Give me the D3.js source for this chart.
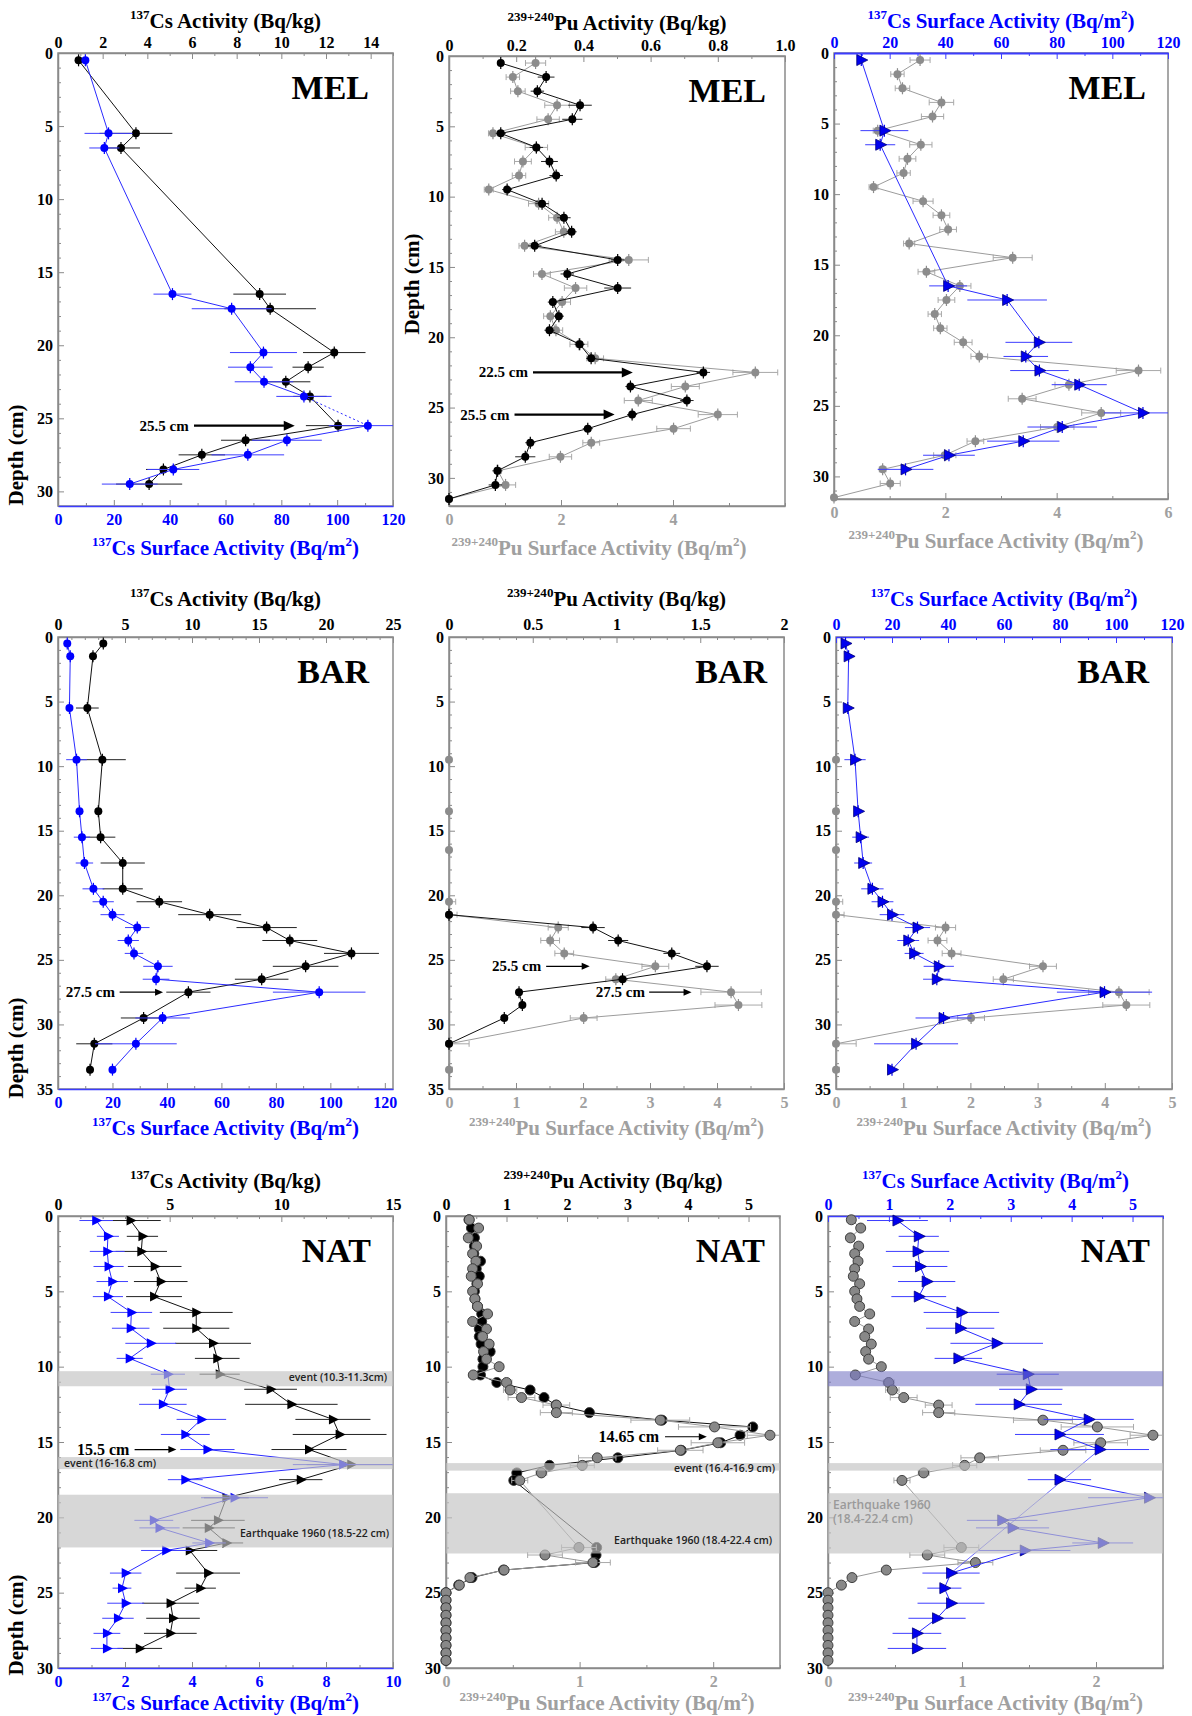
<!DOCTYPE html>
<html>
<head>
<meta charset="utf-8">
<script src="https://cdn.jsdelivr.net/npm/d3@7/dist/d3.min.js"></script>
<style>
  body { margin: 0; background: #fff; }
  svg text { font-family: "Liberation Serif", "Times New Roman", serif; font-weight: bold; }
  svg text.band { font-family: "Open Sans", "Liberation Sans", sans-serif; font-weight: 600; }
</style>
</head>
<body>
<svg id="chart" width="1192" height="1716"></svg>
<script>
// ---------- data: MEL ----------
const melCsDepth   = [0.5, 5.5, 6.5, 16.5, 17.5, 20.5, 21.5, 22.5, 23.5, 25.5, 26.5, 27.5, 28.5, 29.5];
const melCsKg      = [0.92, 3.49, 2.82, 9.03, 9.5, 12.37, 11.2, 10.2, 11.28, 12.54, 8.4, 6.44, 4.72, 4.08];
const melCsKgErr   = [0, 1.63, 0.85, 1.18, 2.05, 1.4, 0.7, 1.1, 0.75, 1.44, 1.1, 1.04, 0.78, 1.48];
const melCsM2      = [9.8, 18.1, 16.6, 41, 62.2, 73.6, 68.9, 73.8, 88.1, 111, 82, 68, 41.3, 25.7];
const melCsM2Err   = [0, 8.6, 5.4, 6.8, 14.3, 12, 8, 10.5, 9.9, 14, 12.5, 13, 9.3, 10];

const melPuDepth   = [0.5, 1.5, 2.5, 3.5, 4.5, 5.5, 6.5, 7.5, 8.5, 9.5, 10.5, 11.5, 12.5, 13.5, 14.5, 15.5,
                      16.5, 17.5, 18.5, 19.5, 20.5, 21.5, 22.5, 23.5, 24.5, 25.5, 26.5, 27.5, 28.5, 29.5, 30.5, 31.5];
const melPuKg      = [0.154, 0.289, 0.263, 0.39, 0.367, 0.154, 0.26, 0.299, 0.319, 0.173, 0.277, 0.342, 0.365, 0.255, 0.502, 0.352,
                      0.502, 0.309, 0.327, 0.299, 0.389, 0.423, 0.757, 0.54, 0.708, 0.545, 0.413, 0.242, 0.227, 0.144, 0.138, 0];
const melPuKgErr   = [0.01, 0.025, 0.02, 0.035, 0.03, 0.015, 0.02, 0.025, 0.02, 0.015, 0.02, 0.02, 0.015, 0.02, 0.02, 0.02,
                      0.04, 0.015, 0.015, 0.015, 0.015, 0.015, 0.02, 0.015, 0.02, 0.015, 0.015, 0.015, 0.03, 0.015, 0.02, 0];
const melPuM2      = [1.546, 1.14, 1.23, 1.93, 1.77, 0.785, 1.56, 1.32, 1.25, 0.71, 1.6, 1.93, 2.05, 1.35, 3.21, 1.66,
                      2.26, 2.02, 1.81, 1.91, 2.32, 2.61, 5.47, 4.22, 3.38, 4.8, 4.01, 2.54, 1.99, 0.874, 1.01, 0];
const melPuM2Err   = [0.18, 0.12, 0.13, 0.22, 0.2, 0.08, 0.2, 0.15, 0.12, 0.08, 0.18, 0.15, 0.15, 0.1, 0.35, 0.15,
                      0.2, 0.15, 0.12, 0.12, 0.16, 0.15, 0.4, 0.25, 0.25, 0.35, 0.3, 0.15, 0.2, 0.06, 0.18, 0];

// ---------- data: BAR ----------
const barCsDepth   = [0.5, 1.5, 5.5, 9.5, 13.5, 15.5, 17.5, 19.5, 20.5, 21.5, 22.5, 23.5, 24.5, 25.5, 26.5, 27.5, 29.5, 31.5, 33.5];
const barCsKg      = [3.38, 2.61, 2.19, 3.31, 3.01, 3.18, 4.83, 4.83, 7.56, 11.32, 15.57, 17.3, 21.9, 18.48, 15.2, 9.73, 6.39, 2.71, 2.39];
const barCsKgErr   = [0.2, 0.2, 0.85, 1.75, 0.2, 1.1, 1.65, 1.5, 1.7, 2.35, 2.25, 2.05, 2.05, 2.45, 2.0, 1.65, 1.7, 1.35, 0.2];
const barCsM2      = [3.4, 4.5, 4.2, 6.8, 7.9, 8.8, 9.7, 13, 16.6, 20, 29.1, 25.8, 27.9, 36.7, 36, 95.9, 38.4, 28.6, 20];
const barCsM2Err   = [0.5, 0.5, 0.5, 3.8, 1, 3, 3.2, 4, 3.9, 4.4, 4.5, 3.9, 3.4, 5.4, 4.9, 17, 10, 15, 0.5];

const barPuM2Depth = [9.5, 13.5, 16.5, 20.5, 21.5, 22.5, 23.5, 24.5, 25.5, 26.5, 27.5, 28.5, 29.5, 31.5, 33.5];
const barPuM2      = [0, 0, 0, 0, 0, 1.63, 1.51, 1.72, 3.08, 2.49, 4.21, 4.32, 2.01, 0, 0];
const barPuM2Err   = [0, 0, 0, 0.1, 0.12, 0.15, 0.14, 0.14, 0.2, 0.15, 0.45, 0.35, 0.2, 0.3, 0.05];
const barPuKgDepth = [21.5, 22.5, 23.5, 24.5, 25.5, 26.5, 27.5, 28.5, 29.5, 31.5];
const barPuKg      = [0, 0.86, 1.01, 1.33, 1.54, 1.036, 0.418, 0.438, 0.33, 0];
const barPuKgErr   = [0, 0.07, 0.06, 0.05, 0.07, 0.03, 0.02, 0.02, 0.02, 0];

// ---------- data: NAT ----------
const natCsDepth   = [0.3, 1.35, 2.35, 3.35, 4.35, 5.35, 6.4, 7.45, 8.45, 9.45, 10.5, 11.5, 12.5, 13.5, 14.5, 15.5,
                      16.5, 17.5, 18.7, 20.2, 20.7, 21.7, 22.2, 23.7, 24.7, 25.7, 26.7, 27.7, 28.7];
const natCsKg      = [3.25, 3.78, 3.73, 4.33, 4.6, 4.3, 6.19, 6.19, 6.94, 7.13, 7.24, 9.52, 10.45, 12.31, 12.61, 11.24,
                      13.13, 10.87, 7.54, 7.16, 6.75, 7.54, 5.9, 6.72, 6.37, 5.04, 5.15, 5.03, 3.66];
const natCsKgErr   = [1.35, 0.7, 1.15, 1.2, 1.2, 1.25, 1.63, 1.48, 1.7, 1.0, 0.9, 1.18, 2.07, 1.68, 2.1, 1.68,
                      2.0, 0.97, 1.0, 1.2, 1.17, 0.75, 1.23, 1.43, 0.7, 1.27, 1.2, 1.18, 1.0];
const natCsM2      = [1.14, 1.49, 1.47, 1.51, 1.62, 1.49, 2.19, 2.17, 2.77, 2.14, 3.28, 3.33, 3.13, 4.28, 3.8, 4.46,
                      8.51, 3.8, 5.27, 2.86, 3.03, 4.51, 3.23, 2.02, 1.91, 2.02, 1.79, 1.46, 1.46];
const natCsM2Err   = [0.5, 0.33, 0.52, 0.45, 0.47, 0.45, 0.62, 0.56, 0.76, 0.39, 0.51, 0.52, 0.71, 0.74, 0.73, 0.81,
                      1.5, 0.52, 1.0, 0.58, 0.6, 0.5, 0.75, 0.47, 0.28, 0.55, 0.47, 0.4, 0.48];

const natPuDepth   = [0.25, 0.8, 1.45, 2.0, 2.5, 3.0, 3.5, 4.0, 4.5, 5.0, 5.5, 6.0, 6.5, 7.0, 7.5, 8.0, 8.5, 9.0, 9.5, 10.0,
                      10.55, 11.05, 11.55, 12.05, 12.55, 13.05, 13.55, 14.0, 14.55, 15.05, 15.55, 16.05, 16.55, 17.05, 17.55,
                      22.0, 22.5, 23.0, 23.5, 24.0, 24.5, 25.0, 25.5, 26.0, 26.5, 27.0, 27.5, 28.0, 28.5, 29.0, 29.5];
const natPuKg      = [0.38, 0.42, 0.47, 0.47, 0.46, 0.57, 0.5, 0.55, 0.51, 0.47, 0.48, 0.52, 0.59, 0.59, 0.55, 0.55, 0.58, 0.73, 0.61, 0.61,
                      0.57, 0.84, 1.39, 1.62, 1.82, 2.37, 3.57, 5.07, 4.86, 4.54, 3.89, 2.84, 1.71, 1.17, 1.12,
                      2.49, 2.48, 2.46, 0.95, 0.43, 0.21, 0, 0, 0, 0, 0, 0, 0, 0, 0, 0];
const natPuM2      = [0.174, 0.244, 0.167, 0.229, 0.199, 0.224, 0.199, 0.189, 0.236, 0.199, 0.216, 0.236, 0.311, 0.199, 0.303, 0.274, 0.323, 0.281, 0.303, 0.398,
                      0.204, 0.453, 0.48, 0.565, 0.826, 0.826, 1.604, 2.01, 2.425, 2.035, 1.754, 1.132, 1.02, 0.714, 0.552,
                      0.995, 0.741, 1.1, 0.435, 0.179, 0.1, 0, 0, 0, 0, 0, 0, 0, 0, 0, 0];
const natPuM2Err   = [0.03, 0.03, 0.03, 0.03, 0.03, 0.03, 0.03, 0.03, 0.03, 0.03, 0.03, 0.03, 0.03, 0.03, 0.03, 0.03, 0.03, 0.03, 0.03, 0.03,
                      0.03, 0.04, 0.05, 0.1, 0.1, 0.12, 0.22, 0.27, 0.17, 0.2, 0.17, 0.14, 0.09, 0.04, 0.06,
                      0.13, 0.13, 0.13, 0.03, 0.02, 0.02, 0, 0, 0, 0, 0, 0, 0, 0, 0, 0];

const natCsBandFrom = [10.3, 16, 18.5];
const natCsBandTo   = [11.3, 16.8, 22];
const natPuBandFrom = [16.4, 18.4];
const natPuBandTo   = [16.9, 22.4];

// ---------- tick labels ----------
const depthTicks30 = [0, 5, 10, 15, 20, 25, 30];
const depthTicks35 = [0, 5, 10, 15, 20, 25, 30, 35];
const melCsKgTicks = [0, 2, 4, 6, 8, 10, 12, 14];
const csM2Ticks    = [0, 20, 40, 60, 80, 100, 120];
const melPuKgTicks = [0, 0.2, 0.4, 0.6, 0.8, 1.0];
const melPuM2Ticks = [0, 2, 4];
const melPuM2Ticks3 = [0, 2, 4, 6];
const barCsKgTicks = [0, 5, 10, 15, 20, 25];
const barPuKgTicks = [0, 0.5, 1, 1.5, 2];
const barPuM2Ticks = [0, 1, 2, 3, 4, 5];
const natCsKgTicks = [0, 5, 10, 15];
const natCsM2Ticks = [0, 2, 4, 6, 8, 10];
const natPuKgTicks = [0, 1, 2, 3, 4, 5];
const natPuM2Ticks = [0, 1, 2];
const natCsM2Ticks9 = [0, 1, 2, 3, 4, 5];

// ---------- styling ----------
const FRAME = '#8a8a8a';
const BLUE = '#0000ff';
const BLUE_AX = '#3c3cff';
const GREY_TXT = '#a0a0a0';
const TRI = 'M-4.5,-5.5L6.5,0L-4.5,5.5Z';
const TITLE_SIZE = 21;
const TICK_SIZE = 16;

const CS_KG = ['^137', 'Cs Activity (Bq/kg)'];
const CS_M2 = ['^137', 'Cs Surface Activity (Bq/m', '^2', ')'];
const PU_KG = ['^239+240', 'Pu Activity (Bq/kg)'];
const PU_M2 = ['^239+240', 'Pu Surface Activity (Bq/m', '^2', ')'];

const svg = d3.select('#chart');
let clipN = 0;

function titleText(g, x, y, parts, color, size) {
  const t = g.append('text').attr('x', x).attr('y', y).attr('text-anchor', 'middle')
    .attr('fill', color).attr('font-size', size);
  let up = false;
  parts.forEach(p => {
    const sup = p.startsWith('^');
    const ts = t.append('tspan').text(sup ? p.slice(1) : p);
    if (sup) {
      ts.attr('font-size', size * 0.62);
      if (!up) { ts.attr('dy', -size * 0.42); up = true; }
    } else if (up) { ts.attr('dy', size * 0.42); up = false; }
  });
}

function axis(g, scale, orient, major, minorStep, o) {
  const mk = () => orient === 'top' ? d3.axisTop(scale) : orient === 'bottom' ? d3.axisBottom(scale) : d3.axisLeft(scale);
  const [d0, d1] = scale.domain();
  const minor = d3.range(d0, d1 + 1e-9, minorStep).map(v => +v.toFixed(4)).filter(v => !major.includes(v));
  const tr = orient === 'bottom' ? `translate(0,${o.offset})` : null;
  const gm = g.append('g').attr('transform', tr)
    .call(mk().tickValues(minor).tickSize(-3).tickSizeOuter(0).tickFormat(''));
  gm.select('.domain').remove();
  gm.selectAll('line').attr('stroke', o.tickColor || FRAME);
  const ga = g.append('g').attr('transform', tr)
    .call(mk().tickValues(major).tickSize(-6).tickSizeOuter(0).tickPadding(o.pad).tickFormat(o.fmt || (d => d)));
  ga.attr('font-family', null).attr('font-size', null);
  ga.select('.domain').attr('stroke', o.lineColor || FRAME).attr('stroke-width', o.lineWidth || 1.5);
  ga.selectAll('.tick line').attr('stroke', o.tickColor || FRAME);
  ga.selectAll('text').attr('fill', o.labelColor).attr('font-size', TICK_SIZE);
}

function drawSeries(g, s, xs, y, clipId) {
  const dmax = xs.domain()[1];
  const pts = s.depth.map((d, i) => ({ i, d, v: s.values[i], e: s.errors ? s.errors[i] : 0 }));
  const vis = pts.filter(q => q.v <= dmax + 1e-9);
  const eg = g.append('g').attr('clip-path', `url(#${clipId})`);
  const eb = vis.filter(q => q.e > 0);
  eg.selectAll(null).data(eb).join('line')
    .attr('x1', q => xs(q.v - q.e)).attr('x2', q => xs(q.v + q.e))
    .attr('y1', q => y(q.d)).attr('y2', q => y(q.d))
    .attr('stroke', s.err).attr('stroke-width', 1);
  if (s.caps) {
    eg.selectAll(null).data(eb.flatMap(q => [q.v - q.e, q.v + q.e].map(v => ({ v, d: q.d })))).join('line')
      .attr('x1', q => xs(q.v)).attr('x2', q => xs(q.v))
      .attr('y1', q => y(q.d) - 3).attr('y2', q => y(q.d) + 3)
      .attr('stroke', s.err).attr('stroke-width', 1);
  }
  const segs = [];
  for (let k = 0; k < pts.length - 1; k++) {
    if (s.skip && s.skip.includes(k)) continue;
    segs.push({ a: pts[k], b: pts[k + 1], dot: s.dot && s.dot.includes(k), thin: false });
  }
  (s.links || []).forEach(([a, b]) => segs.push({ a: pts[a], b: pts[b], dot: false, thin: true }));
  g.selectAll(null).data(segs).join('line')
    .attr('x1', sg => xs(sg.a.v)).attr('y1', sg => y(sg.a.d))
    .attr('x2', sg => xs(sg.b.v)).attr('y2', sg => y(sg.b.d))
    .attr('stroke', s.line).attr('stroke-width', sg => sg.thin ? 0.7 : 1)
    .attr('stroke-dasharray', sg => sg.dot ? '2,2.5' : null);
  if (s.vtick) {
    g.selectAll(null).data(vis).join('line')
      .attr('x1', q => xs(q.v)).attr('x2', q => xs(q.v))
      .attr('y1', q => y(q.d) - 6).attr('y2', q => y(q.d) + 6)
      .attr('stroke', s.color).attr('stroke-width', 1.2);
  }
  if (s.marker === 'circle') {
    g.selectAll(null).data(vis).join('circle')
      .attr('cx', q => xs(q.v)).attr('cy', q => y(q.d)).attr('r', s.r || 4)
      .attr('fill', s.color).attr('stroke', s.stroke || 'none').attr('stroke-width', 0.9);
  } else {
    g.selectAll(null).data(vis).join('path')
      .attr('d', s.tri || TRI)
      .attr('transform', q => `translate(${xs(q.v)},${y(q.d)})`)
      .attr('fill', s.color).attr('stroke', s.stroke || 'none').attr('stroke-width', 0.8);
  }
}

function panel(p) {
  const g = svg.append('g').attr('transform', `translate(${p.x},${p.y})`);
  const { w, h } = p;
  const y = d3.scaleLinear().domain([0, p.depthMax]).range([0, h]);
  const xt = d3.scaleLinear().domain(p.top.domain).range([0, w]);
  const xb = d3.scaleLinear().domain(p.bottom.domain).range([0, w]);
  const clipId = 'clip' + (clipN++);
  g.append('clipPath').attr('id', clipId).append('rect')
    .attr('x', 0).attr('y', -4).attr('width', w).attr('height', h + 8);

  g.append('rect').attr('width', w).attr('height', h)
    .attr('fill', 'none').attr('stroke', FRAME).attr('stroke-width', 1.5);

  axis(g, y, 'left', p.depthTicks, 1, { pad: 5, labelColor: '#000' });
  axis(g, xt, 'top', p.top.ticks, p.top.minor, { pad: p.topPad, labelColor: p.top.labelColor,
    lineColor: p.top.lineColor, lineWidth: p.top.lineWidth, fmt: p.top.fmt, tickColor: p.top.tickColor });
  axis(g, xb, 'bottom', p.bottom.ticks, p.bottom.minor, { pad: 8, offset: h, labelColor: p.bottom.labelColor,
    lineColor: p.bottom.lineColor, lineWidth: p.bottom.lineWidth, fmt: p.bottom.fmt, tickColor: p.bottom.tickColor });

  titleText(g, w / 2, -p.titleGap, p.top.title, p.top.titleColor, TITLE_SIZE);
  titleText(g, w / 2 + (p.bottomShift || 0), h + p.bottomGap, p.bottom.title, p.bottom.titleColor, TITLE_SIZE);

  if (p.depthLabel) {
    g.append('text').attr('transform', `translate(${p.depthLabel[0]},${p.depthLabel[1]}) rotate(-90)`)
      .attr('text-anchor', 'middle').attr('font-size', 21).attr('fill', '#000').text('Depth (cm)');
  }

  p.series.forEach(s => drawSeries(g, s, s.axis === 'top' ? xt : xb, y, clipId));

  (p.bands || []).forEach(b => {
    g.append('rect').attr('x', 0).attr('width', w)
      .attr('y', y(b.from)).attr('height', y(b.to) - y(b.from))
      .attr('fill', b.fill).attr('opacity', b.opacity);
  });
  (p.bandLabels || []).forEach(l => {
    g.append('text').attr('class', 'band')
      .attr('x', l.anchor === 'end' ? w - l.pad : l.pad).attr('y', y(l.depth) + 3.5)
      .attr('text-anchor', l.anchor)
      .attr('font-size', l.size || 10.5).attr('fill', l.color || '#222').text(l.text);
  });

  (p.arrows || []).forEach(a => {
    const yy = y(a.depth), x1 = xt(a.from), x2 = xt(a.to);
    const hl = a.thick ? 11 : 8, hw = a.thick ? 5 : 3.5;
    g.append('line').attr('x1', x1).attr('x2', x2 - hl + 1).attr('y1', yy).attr('y2', yy)
      .attr('stroke', '#000').attr('stroke-width', a.thick ? 2.2 : 1.2);
    g.append('path').attr('d', `M${x2},${yy}L${x2 - hl},${yy - hw}L${x2 - hl},${yy + hw}Z`).attr('fill', '#000');
    g.append('text').attr('x', xt(a.textEnd)).attr('y', yy + 5).attr('text-anchor', 'end')
      .attr('font-size', a.size || 15).attr('fill', '#000').text(a.text);
  });

  g.append('text').attr('x', w - p.namePad).attr('y', 46).attr('text-anchor', 'end')
    .attr('font-size', 34).attr('fill', '#000').text(p.name);
}

// ---------- series styles ----------
const blackDot = { color: '#000', line: '#111', err: '#222', marker: 'circle', r: 4, vtick: true };
const blueDot  = { color: BLUE, line: '#2b2bff', err: '#3d3dff', marker: 'circle', r: 4, vtick: true };
const greyDot  = { color: '#8c8c8c', line: '#9c9c9c', err: '#a8a8a8', marker: 'circle', r: 4, vtick: true, caps: true };
const blueTri  = { color: '#0000ee', stroke: '#00007a', line: '#2b2bff', err: '#3d3dff', marker: 'tri', vtick: true };
const blackTri = { color: '#000', line: '#111', err: '#222', marker: 'tri', tri: 'M-4,-5L6,0L-4,5Z' };
const blueTri7 = { color: BLUE, line: '#2b2bff', err: '#4040ff', marker: 'tri', tri: 'M-4,-5L6,0L-4,5Z' };
const natBlack = { color: '#000', stroke: '#333', line: '#111', err: '#555', marker: 'circle', r: 5 };
const natGrey  = { color: '#888', stroke: '#333', line: '#999', err: '#aaa', marker: 'circle', r: 5, caps: true };
const natBlueTri = { color: '#0000ee', stroke: '#00007a', line: '#2b2bff', err: '#3d3dff', marker: 'tri' };

const ser = (depth, values, errors, ax, style, extra) =>
  Object.assign({}, style, { depth, values, errors, axis: ax }, extra || {});

const kgAxis = (domain, ticks, minor, title, fmt) => ({ domain, ticks, minor, title, fmt, labelColor: '#000', titleColor: '#000' });
const csM2Blue = (domain, ticks, minor) => ({ domain, ticks, minor, title: CS_M2, labelColor: BLUE, titleColor: BLUE, lineColor: BLUE_AX });
const puM2Grey = (domain, ticks, minor) => ({ domain, ticks, minor, title: PU_M2, labelColor: GREY_TXT, titleColor: GREY_TXT });

const greyBand = (f, t) => ({ from: f, to: t, fill: '#c2c2c2', opacity: 0.66 });

const panels = [
  // ---- row 1: MEL ----
  { x: 58, y: 53, w: 335, h: 453, depthMax: 31, depthTicks: depthTicks30, name: 'MEL', namePad: 24,
    titleGap: 25, bottomGap: 49, topPad: 5, depthLabel: [-35, 402],
    top: kgAxis([0, 15], melCsKgTicks, 1, CS_KG),
    bottom: csM2Blue([0, 120], csM2Ticks, 10),
    series: [ser(melCsDepth, melCsKg, melCsKgErr, 'top', blackDot),
             ser(melCsDepth, melCsM2, melCsM2Err, 'bottom', blueDot, { dot: [8] })],
    arrows: [{ depth: 25.5, from: 6.09, to: 10.6, textEnd: 5.85, text: '25.5 cm', thick: true }] },
  { x: 449, y: 56, w: 336, h: 450, depthMax: 32, depthTicks: depthTicks30, name: 'MEL', namePad: 19,
    titleGap: 26, bottomGap: 49, bottomShift: -18, topPad: 5, depthLabel: [-30, 228],
    top: kgAxis([0, 1], melPuKgTicks, 0.1, PU_KG, d => d === 1 ? '1.0' : d),
    bottom: puM2Grey([0, 6], melPuM2Ticks, 1),
    series: [ser(melPuDepth, melPuM2, melPuM2Err, 'bottom', greyDot),
             ser(melPuDepth, melPuKg, melPuKgErr, 'top', blackDot)],
    arrows: [{ depth: 22.5, from: 0.25, to: 0.547, textEnd: 0.235, text: '22.5 cm', thick: true },
             { depth: 25.5, from: 0.195, to: 0.493, textEnd: 0.18, text: '25.5 cm', thick: true }] },
  { x: 834, y: 53, w: 334, h: 446, depthMax: 31.6, depthTicks: depthTicks30, name: 'MEL', namePad: 22,
    titleGap: 25, bottomGap: 49, bottomShift: -5, topPad: 5,
    top: Object.assign(csM2Blue([0, 120], csM2Ticks, 10), { lineWidth: 2.2, tickColor: BLUE_AX }),
    bottom: puM2Grey([0, 6], melPuM2Ticks3, 1),
    series: [ser(melPuDepth, melPuM2, melPuM2Err, 'bottom', greyDot),
             ser(melCsDepth, melCsM2, melCsM2Err, 'top', blueTri)] },

  // ---- row 2: BAR ----
  { x: 58, y: 637, w: 335, h: 452, depthMax: 35, depthTicks: depthTicks35, name: 'BAR', namePad: 24,
    titleGap: 31, bottomGap: 46, topPad: 7, depthLabel: [-35, 411],
    top: kgAxis([0, 25], barCsKgTicks, 1, CS_KG),
    bottom: csM2Blue([0, 123], csM2Ticks, 10),
    series: [ser(barCsDepth, barCsKg, barCsKgErr, 'top', blackDot),
             ser(barCsDepth, barCsM2, barCsM2Err, 'bottom', blueDot)],
    arrows: [{ depth: 27.5, from: 4.6, to: 7.84, textEnd: 4.25, text: '27.5 cm' }] },
  { x: 449, y: 637, w: 335, h: 452, depthMax: 35, depthTicks: depthTicks35, name: 'BAR', namePad: 17,
    titleGap: 31, bottomGap: 46, topPad: 7,
    top: kgAxis([0, 2], barPuKgTicks, 0.1, PU_KG),
    bottom: puM2Grey([0, 5], barPuM2Ticks, 0.5),
    series: [ser(barPuM2Depth, barPuM2, barPuM2Err, 'bottom', greyDot),
             ser(barPuKgDepth, barPuKg, barPuKgErr, 'top', blackDot)],
    arrows: [{ depth: 25.5, from: 0.58, to: 0.84, textEnd: 0.55, text: '25.5 cm' },
             { depth: 27.5, from: 1.195, to: 1.448, textEnd: 1.17, text: '27.5 cm' }] },
  { x: 836, y: 637, w: 336, h: 452, depthMax: 35, depthTicks: depthTicks35, name: 'BAR', namePad: 23,
    titleGap: 31, bottomGap: 46, topPad: 7,
    top: Object.assign(csM2Blue([0, 120], csM2Ticks, 10), { lineWidth: 1.5, tickColor: BLUE_AX }),
    bottom: puM2Grey([0, 5], barPuM2Ticks, 0.5),
    series: [ser(barPuM2Depth, barPuM2, barPuM2Err, 'bottom', greyDot),
             ser(barCsDepth, barCsM2, barCsM2Err, 'top', blueTri)] },

  // ---- row 3: NAT ----
  { x: 58, y: 1216, w: 335, h: 452, depthMax: 30, depthTicks: depthTicks30, name: 'NAT', namePad: 22,
    titleGap: 28, bottomGap: 42, topPad: 6, depthLabel: [-35, 409],
    top: kgAxis([0, 15], natCsKgTicks, 1, CS_KG),
    bottom: csM2Blue([0, 10], natCsM2Ticks, 1),
    series: [ser(natCsDepth, natCsKg, natCsKgErr, 'top', blackTri),
             ser(natCsDepth, natCsM2, natCsM2Err, 'bottom', blueTri7)],
    bands: natCsBandFrom.map((f, i) => greyBand(f, natCsBandTo[i])),
    bandLabels: [{ text: 'event (10.3-11.3cm)', depth: 10.75, anchor: 'end', pad: 6 },
                 { text: 'event (16-16.8 cm)', depth: 16.4, anchor: 'start', pad: 6 },
                 { text: 'Earthquake 1960 (18.5-22 cm)', depth: 21.1, anchor: 'end', pad: 4 }],
    arrows: [{ depth: 15.5, from: 3.43, to: 5.3, textEnd: 3.2, text: '15.5 cm', size: 16 }] },
  { x: 446, y: 1216, w: 334, h: 452, depthMax: 30, depthTicks: depthTicks30, name: 'NAT', namePad: 15,
    titleGap: 28, bottomGap: 42, bottomShift: -6, topPad: 6,
    top: kgAxis([0, 5.52], natPuKgTicks, 0.5, PU_KG),
    bottom: puM2Grey([0, 2.5], natPuM2Ticks, 0.5),
    series: [ser(natPuDepth, natPuKg, null, 'top', natBlack),
             ser(natPuDepth, natPuM2, natPuM2Err, 'bottom', natGrey)],
    bands: natPuBandFrom.map((f, i) => greyBand(f, natPuBandTo[i])),
    bandLabels: [{ text: 'event (16.4-16.9 cm)', depth: 16.75, anchor: 'end', pad: 5 },
                 { text: 'Earthquake 1960 (18.4-22.4 cm)', depth: 21.55, anchor: 'end', pad: 8 }],
    arrows: [{ depth: 14.65, from: 3.62, to: 4.31, textEnd: 3.52, text: '14.65 cm', size: 16 }] },
  { x: 828, y: 1216, w: 335, h: 452, depthMax: 30, depthTicks: depthTicks30, name: 'NAT', namePad: 13,
    titleGap: 28, bottomGap: 42, topPad: 6,
    top: Object.assign(csM2Blue([0, 5.5], natCsM2Ticks9, 0.5), { lineWidth: 1.5, tickColor: BLUE_AX }),
    bottom: puM2Grey([0, 2.5], natPuM2Ticks, 0.5),
    series: [ser(natPuDepth, natPuM2, natPuM2Err, 'bottom', natGrey),
             ser(natCsDepth, natCsM2, natCsM2Err, 'top', natBlueTri, { skip: [15, 16], links: [[15, 23]] })],
    bands: [{ from: natCsBandFrom[0], to: natCsBandTo[0], fill: '#7878c4', opacity: 0.6 }]
      .concat(natPuBandFrom.map((f, i) => greyBand(f, natPuBandTo[i]))),
    bandLabels: [{ text: 'Earthquake 1960', depth: 19.2, anchor: 'start', pad: 5, size: 12, color: '#9a9a9a' },
                 { text: '(18.4-22.4 cm)', depth: 20.15, anchor: 'start', pad: 5, size: 12, color: '#9a9a9a' }] }
];

panels.forEach(panel);
</script>
</body>
</html>
